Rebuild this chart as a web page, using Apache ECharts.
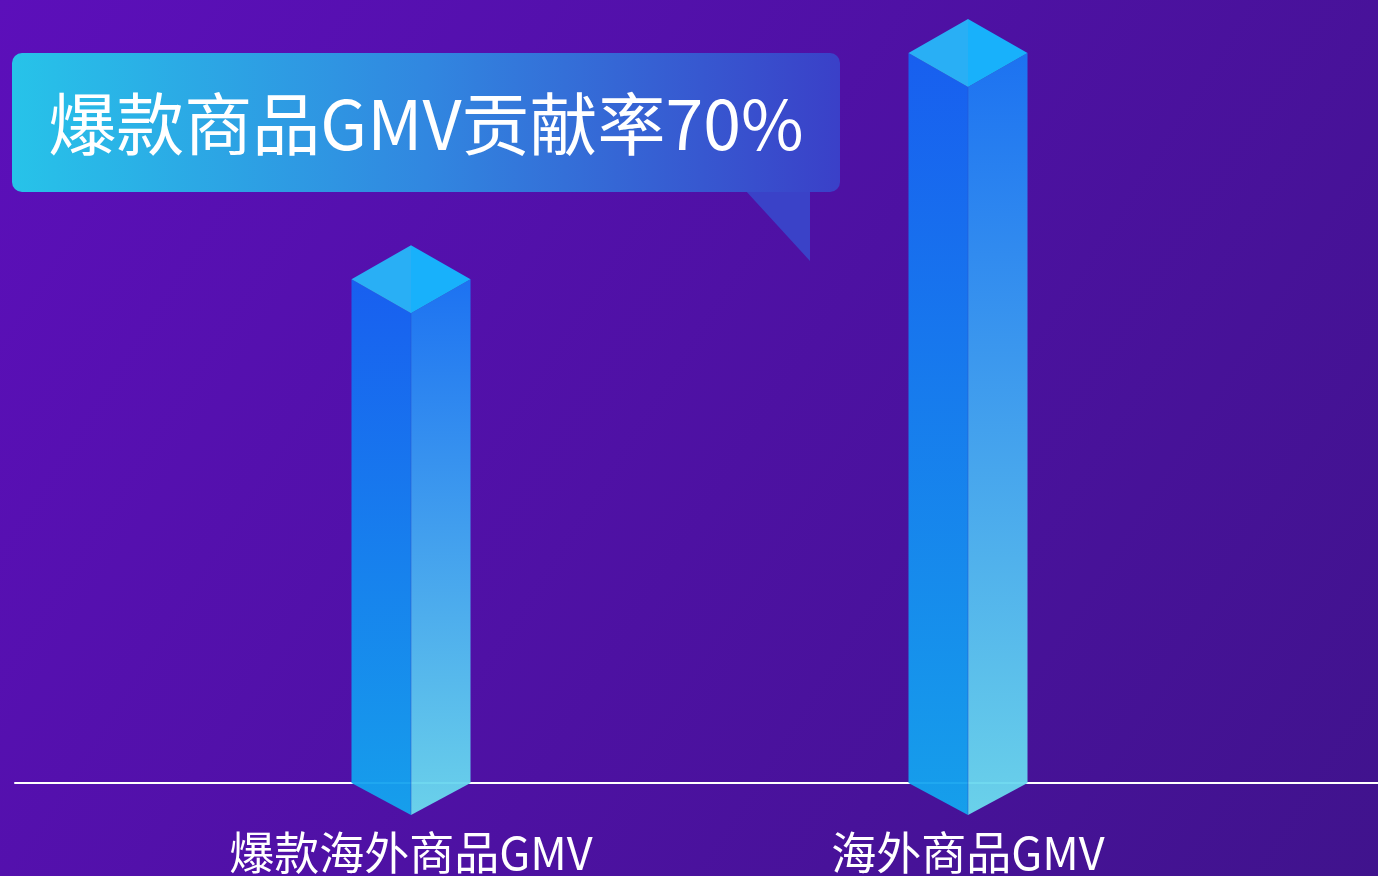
<!DOCTYPE html>
<html>
<head>
<meta charset="utf-8">
<script src="https://cdn.jsdelivr.net/npm/echarts@6/dist/echarts.min.js"></script>
<style>
html,body{margin:0;padding:0;background:#4f12a6;}
#chart{width:1378px;height:876px;}
</style>
</head>
<body>
<div id="chart"></div>
<script>
const categories = ['爆款海外商品GMV', '海外商品GMV'];
const values = [69, 100];
const calloutText = '爆款商品GMV贡献率70%';

const FONT = '"Noto Sans CJK SC", "Noto Sans", sans-serif';
const BAR_W = 119;
const CAP_H = 34;
const BASE_H = 32;

function grad(c0, c1) {
  return new echarts.graphic.LinearGradient(0, 0, 0, 1, [
    { offset: 0, color: c0 },
    { offset: 1, color: c1 }
  ]);
}

function renderItem(params, api) {
  const top = api.coord([api.value(0), api.value(1)]);
  const base = api.coord([api.value(0), 0]);
  const x = top[0], yT = top[1], yB = base[1];
  const w = BAR_W / 2;
  return {
    type: 'group',
    children: [
      {
        type: 'polygon',
        shape: { points: [[x - w, yT], [x, yT + CAP_H], [x, yB + BASE_H], [x - w, yB]] },
        style: { fill: grad('#1563f3', '#13a6ef'), opacity: 0.95 }
      },
      {
        type: 'polygon',
        shape: { points: [[x, yT + CAP_H], [x + w, yT], [x + w, yB], [x, yB + BASE_H]] },
        style: { fill: grad('#1a77f5', '#6cdbee'), opacity: 0.95 }
      },
      {
        type: 'line',
        shape: { x1: x, y1: yT + CAP_H, x2: x, y2: yB + BASE_H },
        style: { stroke: 'rgba(40,80,210,0.5)', lineWidth: 1 }
      },
      {
        type: 'polygon',
        shape: { points: [[x - w, yT], [x, yT - CAP_H], [x, yT + CAP_H]] },
        style: { fill: '#29aff5' }
      },
      {
        type: 'polygon',
        shape: { points: [[x, yT - CAP_H], [x + w, yT], [x, yT + CAP_H]] },
        style: { fill: '#18b1fb' }
      }
    ]
  };
}

const chart = echarts.init(document.getElementById('chart'));
chart.setOption({
  backgroundColor: {
    type: 'linear', x: 0, y: 0, x2: 1, y2: 1,
    colorStops: [
      { offset: 0, color: '#5c0fba' },
      { offset: 1, color: '#40138d' }
    ]
  },
  grid: [
    { left: 15, right: 0, top: 53, bottom: 93 },
    { left: 132.5, width: 1114, top: 53, bottom: 93 }
  ],
  xAxis: [
    {
      type: 'category', gridIndex: 0, data: categories,
      axisLine: { lineStyle: { color: '#ffffff', width: 2 } },
      axisTick: { show: false }, axisLabel: { show: false }, splitLine: { show: false }
    },
    {
      type: 'category', gridIndex: 1, data: categories,
      axisLine: { show: false }, axisTick: { show: false },
      axisLabel: { color: '#ffffff', fontSize: 45, fontFamily: FONT, margin: 47 }
    }
  ],
  yAxis: [
    { type: 'value', gridIndex: 0, min: 0, max: 100, show: false },
    { type: 'value', gridIndex: 1, min: 0, max: 100, show: false }
  ],
  series: [
    {
      type: 'custom',
      xAxisIndex: 1, yAxisIndex: 1,
      renderItem: renderItem,
      encode: { x: 0, y: 1 },
      data: values.map((v, i) => [i, v]),
      z: 5
    }
  ],
  graphic: [
    {
      type: 'polygon', z: 10,
      shape: { points: [[745, 190], [810, 190], [810, 261]] },
      style: { fill: '#3a42c8' }
    },
    {
      type: 'rect', z: 10,
      shape: { x: 12, y: 53, width: 828, height: 139, r: 10 },
      style: {
        fill: new echarts.graphic.LinearGradient(0, 0, 1, 0, [
          { offset: 0, color: '#27c3e9' },
          { offset: 0.5, color: '#3187e0' },
          { offset: 1, color: '#3a40c8' }
        ])
      }
    },
    {
      type: 'text', z: 11,
      x: 426, y: 124,
      style: {
        text: calloutText, fill: '#ffffff', fontSize: 68, fontFamily: FONT,
        align: 'center', verticalAlign: 'middle'
      }
    }
  ]
});
</script>
</body>
</html>
